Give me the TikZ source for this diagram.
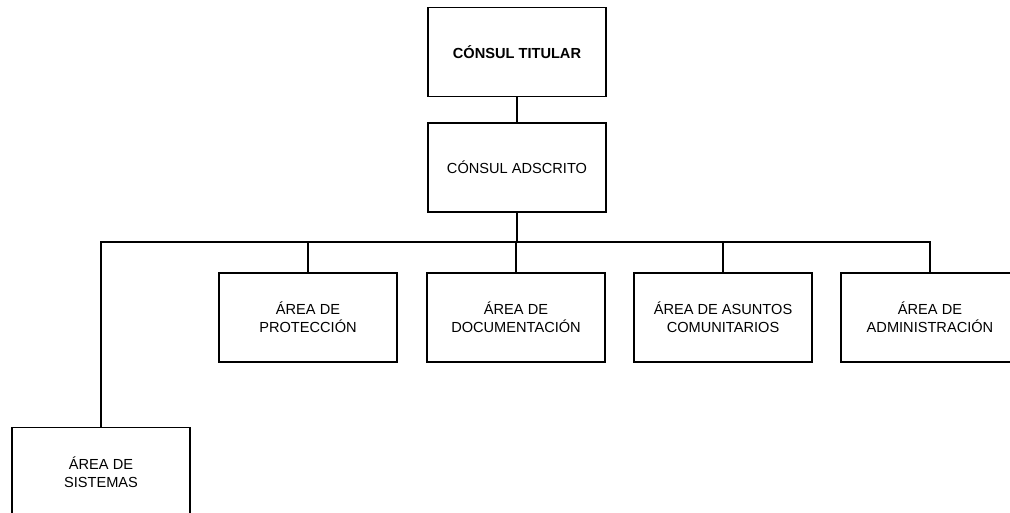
\documentclass[tikz,border=0pt]{standalone}
\usepackage{fontspec}
\setmainfont{Liberation Sans}
\begin{document}
\begin{tikzpicture}[x=1pt,y=-1pt,
  orgbox/.style={draw, line width=1.2pt, minimum width=178pt, minimum height=89pt,
    align=center, inner sep=0pt, font=\fontsize{14.6}{17.6}\selectfont},
  link/.style={line width=1.2pt}]
\useasboundingbox (0,0) rectangle (1010,512);
\clip (0,0) rectangle (1010,512);
\node[orgbox, font=\fontsize{14.6}{17.6}\selectfont\bfseries] (t) at (517,52) {CÓNSUL TITULAR};
\node[orgbox] (a) at (517,167.5) {CÓNSUL ADSCRITO};
\coordinate (bus) at (517,242);
\node[orgbox] (r1) at (308,317.5) {ÁREA DE\\PROTECCIÓN};
\node[orgbox] (r2) at (516,317.5) {ÁREA DE\\DOCUMENTACIÓN};
\node[orgbox] (r3) at (723,317.5) {ÁREA DE ASUNTOS\\COMUNITARIOS};
\node[orgbox] (r4) at (930,317.5) {ÁREA DE\\ADMINISTRACIÓN};
\node[orgbox] (s) at (101,472) {ÁREA DE\\SISTEMAS};
\draw[link] (t) -- (a);
\draw[link] (a) -- (bus);
\draw[link] (s.north) |- (bus) -| (r4.north);
\draw[link] (r1.north) -- (r1.north |- bus);
\draw[link] (r2.north) -- (r2.north |- bus);
\draw[link] (r3.north) -- (r3.north |- bus);
\end{tikzpicture}
\end{document}
